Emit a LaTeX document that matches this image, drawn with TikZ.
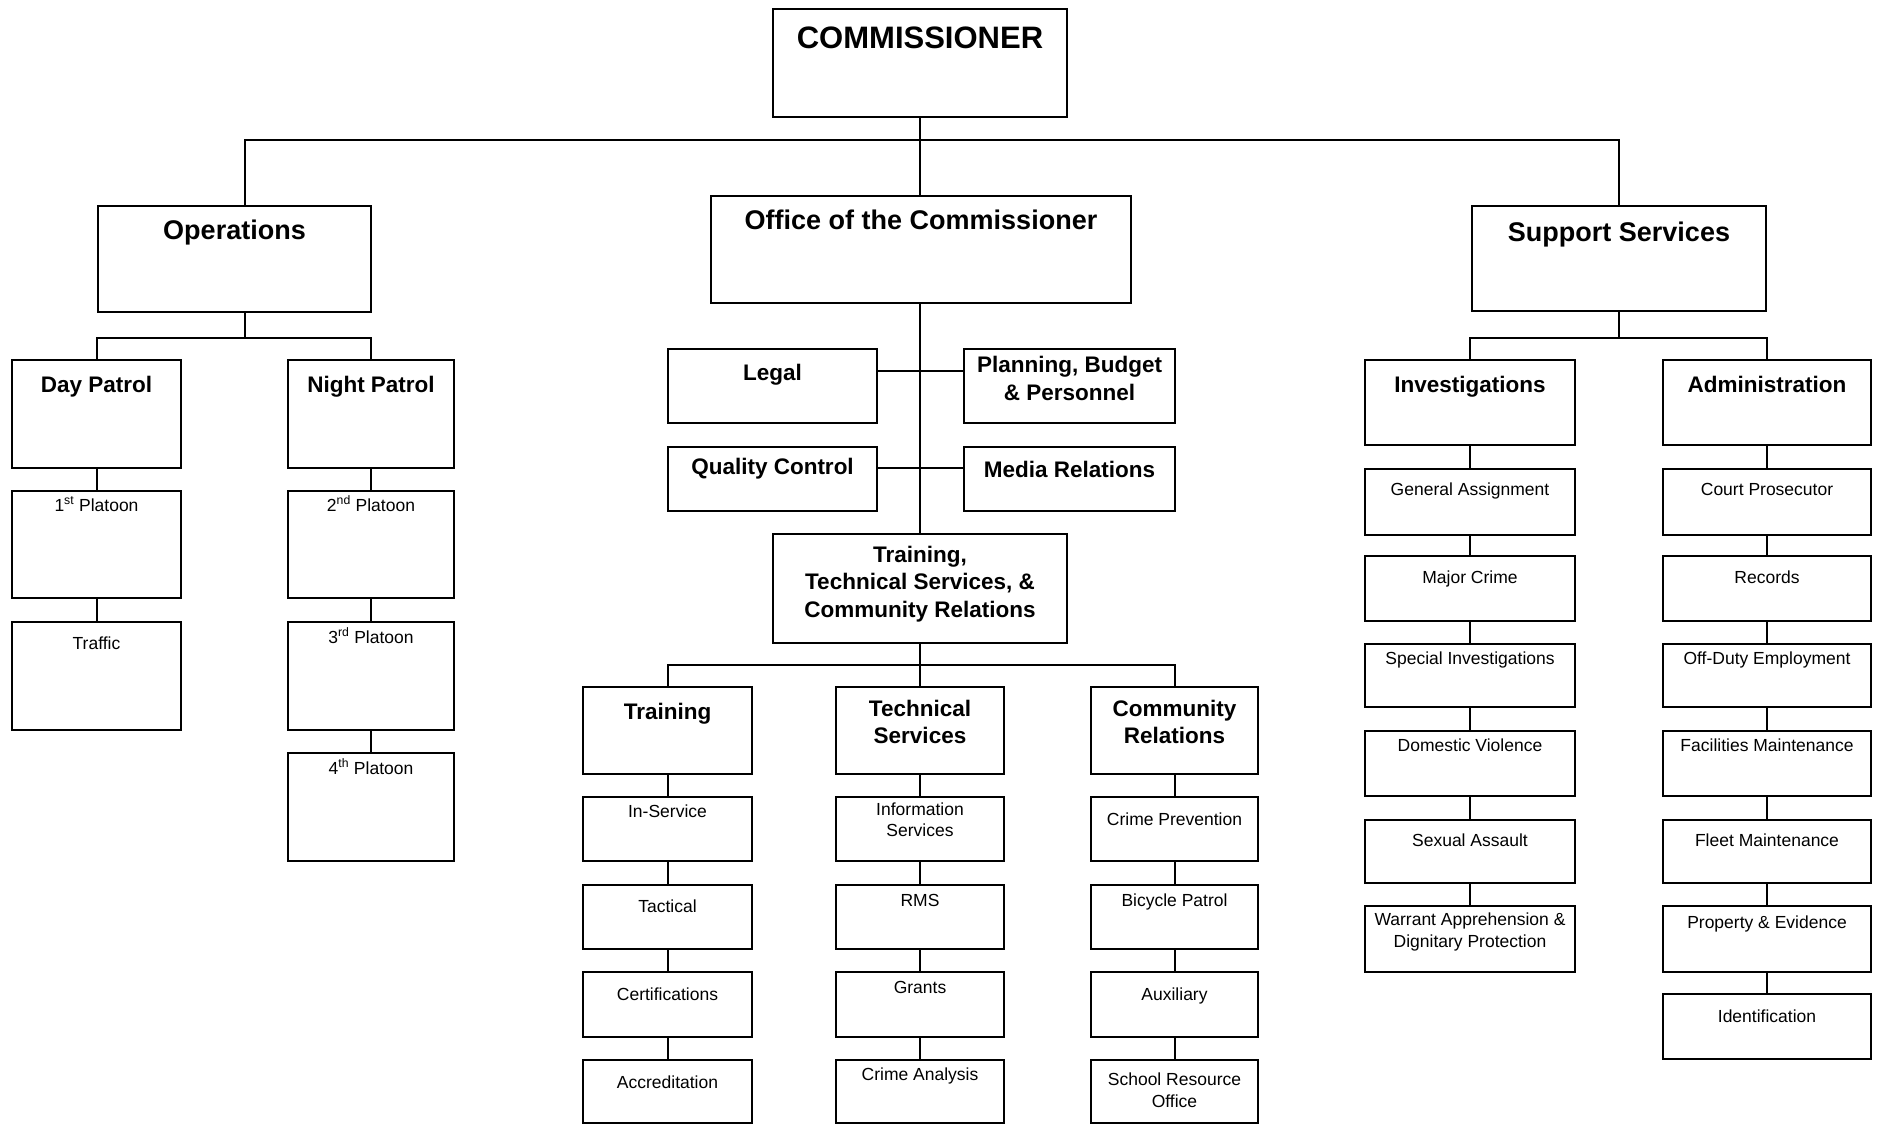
\documentclass[tikz,border=0pt]{standalone}
\usepackage{fontspec}
\setmainfont{Liberation Sans}
\usetikzlibrary{calc}
\tikzset{
  box/.style={draw, line width=2pt, inner sep=0pt, outer sep=0pt},
  conn/.style={line width=2pt},
  lbl/.style={inner sep=0pt, outer sep=0pt, anchor=north, align=center, execute at begin node=\strut},
}
\newcommand\fT{\fontsize{31}{36}\selectfont\bfseries}
\newcommand\fA{\fontsize{27}{32}\selectfont\bfseries}
\newcommand\fB{\fontsize{22.5}{27.5}\selectfont\bfseries}
\newcommand\fC{\fontsize{17.5}{21.5}\selectfont}
\newcommand\bx[5]{\node[box, minimum width={#4-#2}, minimum height={#5-#3}] (#1) at ({(#2+#4)/2},{(#3+#5)/2}) {};}
\newcommand\tT[4]{\node[lbl,font=\fT] (#1) at ($(#2.north)+(0,{#3-25.2})$) {#4};}
\newcommand\tA[4]{\node[lbl,font=\fA] (#1) at ($(#2.north)+(0,{#3-22.4})$) {#4};}
\newcommand\tB[4]{\node[lbl,font=\fB] (#1) at ($(#2.north)+(0,{#3-19.25})$) {#4};}
\newcommand\tC[4]{\node[lbl,font=\fC] (#1) at ($(#2.north)+(0,{#3-15.05})$) {#4};}
\begin{document}
\begin{tikzpicture}[x=1pt,y=-1pt]
\path[fill=white] (0,0) rectangle (1877,1125);
\useasboundingbox (0,0) rectangle (1877,1125);
% ---- boxes ----
\bx{comm}{773}{9}{1067}{117}
\bx{ops}{98}{206}{371}{312}
\bx{ofc}{711}{196}{1131}{303}
\bx{sup}{1472}{206}{1766}{311}
% operations
\bx{day}{12}{360}{181}{468}
\bx{night}{288}{360}{454}{468}
\bx{p1}{12}{491}{181}{598}
\bx{traf}{12}{622}{181}{730}
\bx{p2}{288}{491}{454}{598}
\bx{p3}{288}{622}{454}{730}
\bx{p4}{288}{753}{454}{861}
% office
\bx{legal}{668}{349}{877}{423}
\bx{plan}{964}{349}{1175}{423}
\bx{qc}{668}{447}{877}{511}
\bx{media}{964}{447}{1175}{511}
\bx{ttc}{773}{534}{1067}{643}
\bx{trn}{583}{687}{752}{774}
\bx{tech}{836}{687}{1004}{774}
\bx{comr}{1091}{687}{1258}{774}
\bx{ins}{583}{797}{752}{861}
\bx{tac}{583}{885}{752}{949}
\bx{cert}{583}{972}{752}{1037}
\bx{accr}{583}{1060}{752}{1123}
\bx{info}{836}{797}{1004}{861}
\bx{rms}{836}{885}{1004}{949}
\bx{grants}{836}{972}{1004}{1037}
\bx{cana}{836}{1060}{1004}{1123}
\bx{cprev}{1091}{797}{1258}{861}
\bx{bike}{1091}{885}{1258}{949}
\bx{aux}{1091}{972}{1258}{1037}
\bx{sro}{1091}{1060}{1258}{1123}
% support
\bx{inv}{1365}{360}{1575}{445}
\bx{adm}{1663}{360}{1871}{445}
\bx{ga}{1365}{469}{1575}{535}
\bx{maj}{1365}{556}{1575}{621}
\bx{spec}{1365}{644}{1575}{707}
\bx{dom}{1365}{731}{1575}{796}
\bx{sex}{1365}{820}{1575}{883}
\bx{war}{1365}{906}{1575}{972}
\bx{court}{1663}{469}{1871}{535}
\bx{rec}{1663}{556}{1871}{621}
\bx{off}{1663}{644}{1871}{707}
\bx{fac}{1663}{731}{1871}{796}
\bx{fleet}{1663}{820}{1871}{883}
\bx{prop}{1663}{906}{1871}{972}
\bx{ident}{1663}{994}{1871}{1059}
% ---- labels ----
\tT{comm-t}{comm}{39.6}{COMMISSIONER}
\tA{ops-t}{ops}{33.4}{Operations}
\tA{ofc-t}{ofc}{33.7}{Office of the Commissioner}
\tA{sup-t}{sup}{35.4}{Support Services}
\tB{day-t}{day}{32}{Day Patrol}
\tB{night-t}{night}{32}{Night Patrol}
\tC{p1-t}{p1}{20}{1\textsuperscript{st} Platoon}
\tC{traf-t}{traf}{27}{Traffic}
\tC{p2-t}{p2}{20}{2\textsuperscript{nd} Platoon}
\tC{p3-t}{p3}{21}{3\textsuperscript{rd} Platoon}
\tC{p4-t}{p4}{21}{4\textsuperscript{th} Platoon}
\tB{legal-t}{legal}{31.5}{Legal}
\tB{plan-t}{plan}{26.5}{Planning, Budget\\\& Personnel}
\tB{qc-t}{qc}{27.7}{Quality Control}
\tB{media-t}{media}{30}{Media Relations}
\tB{ttc-t}{ttc}{31}{Training,\\Technical Services, \&\\Community Relations}
\tB{trn-t}{trn}{32}{Training}
\tB{tech-t}{tech}{32}{Technical\\Services}
\tB{comr-t}{comr}{32}{Community\\Relations}
\tC{ins-t}{ins}{20.5}{In-Service}
\tC{tac-t}{tac}{27}{Tactical}
\tC{cert-t}{cert}{28}{Certifications}
\tC{accr-t}{accr}{28}{Accreditation}
\tC{info-t}{info}{20.5}{Information\\Services}
\tC{rms-t}{rms}{21}{RMS}
\tC{grants-t}{grants}{21}{Grants}
\tC{cana-t}{cana}{20}{Crime Analysis}
\tC{cprev-t}{cprev}{28}{Crime Prevention}
\tC{bike-t}{bike}{21}{Bicycle Patrol}
\tC{aux-t}{aux}{28}{Auxiliary}
\tC{sro-t}{sro}{28}{School Resource\\Office}
\tB{inv-t}{inv}{32}{Investigations}
\tB{adm-t}{adm}{32}{Administration}
\tC{ga-t}{ga}{26}{General Assignment}
\tC{maj-t}{maj}{27}{Major Crime}
\tC{spec-t}{spec}{20}{Special Investigations}
\tC{dom-t}{dom}{20}{Domestic Violence}
\tC{sex-t}{sex}{26}{Sexual Assault}
\tC{war-t}{war}{22}{Warrant Apprehension \&\\Dignitary Protection}
\tC{court-t}{court}{26}{Court Prosecutor}
\tC{rec-t}{rec}{27}{Records}
\tC{off-t}{off}{20}{Off-Duty Employment}
\tC{fac-t}{fac}{20}{Facilities Maintenance}
\tC{fleet-t}{fleet}{26}{Fleet Maintenance}
\tC{prop-t}{prop}{22}{Property \& Evidence}
\tC{ident-t}{ident}{28}{Identification}
% ---- connectors ----
\coordinate (b1) at (0,140);
\coordinate (b2) at (0,338);
\coordinate (b3) at (0,665);
\coordinate (opsx) at ($(ops.north)+(10.5,0)$);
\coordinate (opsy) at ($(ops.south)+(10.5,0)$);
\draw[conn] (comm.south) -- (comm.south |- ofc.north);
\draw[conn] (opsx) -- (opsx |- b1) -- (b1 -| sup.north) -- (sup.north);
\draw[conn] (opsy) -- (opsy |- b2);
\draw[conn] (day.north) |- (b2 -| night.north) -- (night.north);
\draw[conn] (sup.south) -- (sup.south |- b2);
\draw[conn] (inv.north) |- (b2 -| adm.north) -- (adm.north);
\draw[conn] (comm.south |- ofc.south) -- (comm.south |- ttc.north);
\coordinate (lc) at ($(legal.north east)!0.3!(legal.south east)$);
\draw[conn] (lc) -- (lc -| plan.west);
\coordinate (qcc) at ($(qc.north east)!0.33!(qc.south east)$);
\draw[conn] (qcc) -- (qcc -| media.west);
\draw[conn] (ttc.south) -- (ttc.south |- b3);
\draw[conn] (trn.north) |- (b3 -| comr.north) -- (comr.north);
\draw[conn] (tech.north) -- (tech.north |- b3);
\foreach \a/\b in {day/p1, p1/traf, night/p2, p2/p3, p3/p4,
  trn/ins, ins/tac, tac/cert, cert/accr,
  tech/info, info/rms, rms/grants, grants/cana,
  comr/cprev, cprev/bike, bike/aux, aux/sro,
  inv/ga, ga/maj, maj/spec, spec/dom, dom/sex, sex/war,
  adm/court, court/rec, rec/off, off/fac, fac/fleet, fleet/prop, prop/ident}
  \draw[conn] (\a.south) -- (\b.north);
\end{tikzpicture}
\end{document}
